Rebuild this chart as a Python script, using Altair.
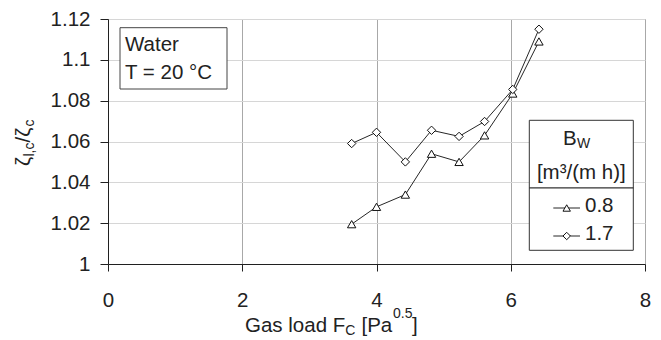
import altair as alt
import pandas as pd

# ---- data ----
gas_load = [3.63, 4.0, 4.43, 4.82, 5.23, 5.61, 6.03, 6.42]
ratio_08 = [1.0195, 1.028, 1.034, 1.054, 1.050, 1.063, 1.0835, 1.109]
ratio_17 = [1.059, 1.0645, 1.050, 1.0655, 1.0625, 1.0698, 1.0855, 1.115]
series_labels = ["0.8", "1.7"]
series_shapes = ["triangle-up", "diamond"]
x_ticks = [0, 2, 4, 6, 8]
y_ticks = [1.0, 1.02, 1.04, 1.06, 1.08, 1.10, 1.12]
box_lines = ["Water", "T = 20 °C"]
legend_title_main = "B"
legend_title_sub = "W"
legend_unit = "[m³/(m h)]"

FONT = "Liberation Sans"
FS = 20.5
FSS = 14
TXT = "#222222"

rows = []
for lab, ys in zip(series_labels, [ratio_08, ratio_17]):
    for xv, yv in zip(gas_load, ys):
        rows.append({"series": lab, "x": xv, "y": yv})
df = pd.DataFrame(rows)

x_enc = alt.X("x:Q", scale=alt.Scale(domain=[0, 8], nice=False),
              axis=alt.Axis(values=x_ticks, title=None, grid=True, gridColor="#a8a8a8",
                            domainColor="#202020", tickColor="#202020", tickSize=7,
                            labelPadding=19, labelFontSize=FS, labelFont=FONT,
                            labelColor=TXT, labelFlush=False, labelOverlap=False))
y_enc = alt.Y("y:Q", scale=alt.Scale(domain=[1.0, 1.12], nice=False, zero=False),
              axis=alt.Axis(values=y_ticks, title=None, grid=True, gridColor="#d6d6d6",
                            labelExpr="format(datum.value, '.2~f')",
                            domainColor="#202020", tickColor="#202020", tickSize=8,
                            labelPadding=10, labelFontSize=FS, labelFont=FONT,
                            labelColor=TXT, labelFlush=False, labelOverlap=False))

shape_scale = alt.Scale(domain=series_labels, range=series_shapes)

lines = alt.Chart(df).mark_line(color="#262626", strokeWidth=1).encode(
    x=x_enc, y=y_enc, detail="series:N", order="x:Q")
points = alt.Chart(df).mark_point(filled=True, fill="white", stroke="#111111",
                                  strokeWidth=1, size=70, opacity=1).encode(
    x=x_enc, y=y_enc, shape=alt.Shape("series:N", scale=shape_scale, legend=None))


def txt(text, x, y, size=FS, align="left", angle=0, baseline="alphabetic"):
    return alt.Chart(pd.DataFrame({"t": [text]})).mark_text(
        align=align, baseline=baseline, fontSize=size, font=FONT, color=TXT, angle=angle
    ).encode(x=alt.value(x), y=alt.value(y), text="t:N")


def box(x1, x2, y1, y2, stroke="#333333"):
    return alt.Chart(pd.DataFrame({"a": [0]})).mark_rect(
        fill="white", stroke=stroke, strokeWidth=1).encode(
        x=alt.value(x1), x2=alt.value(x2), y=alt.value(y1), y2=alt.value(y2))


layers = [lines, points]

# Water annotation box
layers.append(box(12, 119, 8.7, 70, stroke="#444444"))
layers.append(txt(box_lines[0], 17, 32.3))
layers.append(txt(box_lines[1], 17, 60.3))

# Legend boxes
layers.append(box(421.3, 525.3, 101.3, 169))
layers.append(box(421.3, 525.3, 169, 231.3))
layers.append(txt(legend_title_main, 455, 126.3))
layers.append(txt(legend_title_sub, 469, 128.5, size=FSS))
layers.append(txt(legend_unit, 473.3, 159.7, align="center"))
leg_y = [189, 217]
for lab, shp, ly in zip(series_labels, series_shapes, leg_y):
    layers.append(alt.Chart(pd.DataFrame({"a": [0]})).mark_rule(color="#262626", strokeWidth=1).encode(
        x=alt.value(445.3), x2=alt.value(472), y=alt.value(ly)))
    layers.append(alt.Chart(pd.DataFrame({"a": [0]})).mark_point(
        filled=True, fill="white", stroke="#111111", strokeWidth=1, size=55, opacity=1).encode(
        x=alt.value(458.7), y=alt.value(ly), shape=alt.value(shp)))
    layers.append(txt(lab, 477, ly + 4))

# X axis title with subscript / superscript
layers.append(txt("Gas load F", 137, 313))
layers.append(txt("C", 237.3, 315.5, size=FSS))
layers.append(txt("[Pa", 253.5, 313))
layers.append(txt("0.5", 285, 299, size=FSS))
layers.append(txt("]", 304, 313))

# Y axis title (rotated) with subscripts
layers.append(txt("ζ", -78, 147, angle=270))
layers.append(txt("l,c", -74, 137.5, size=FSS, angle=270))
layers.append(txt("/ζ", -78, 123.5, angle=270))
layers.append(txt("c", -74, 107.5, size=FSS, angle=270))

chart = alt.layer(*layers).properties(
    width=537, height=245,
    padding={"left": 100, "top": 11, "right": 8, "bottom": 75},
    autosize="none",
).configure_view(stroke="#8c8c8c", strokeWidth=1)

chart.save("out.html", embed_options={"renderer": "svg", "actions": False})
